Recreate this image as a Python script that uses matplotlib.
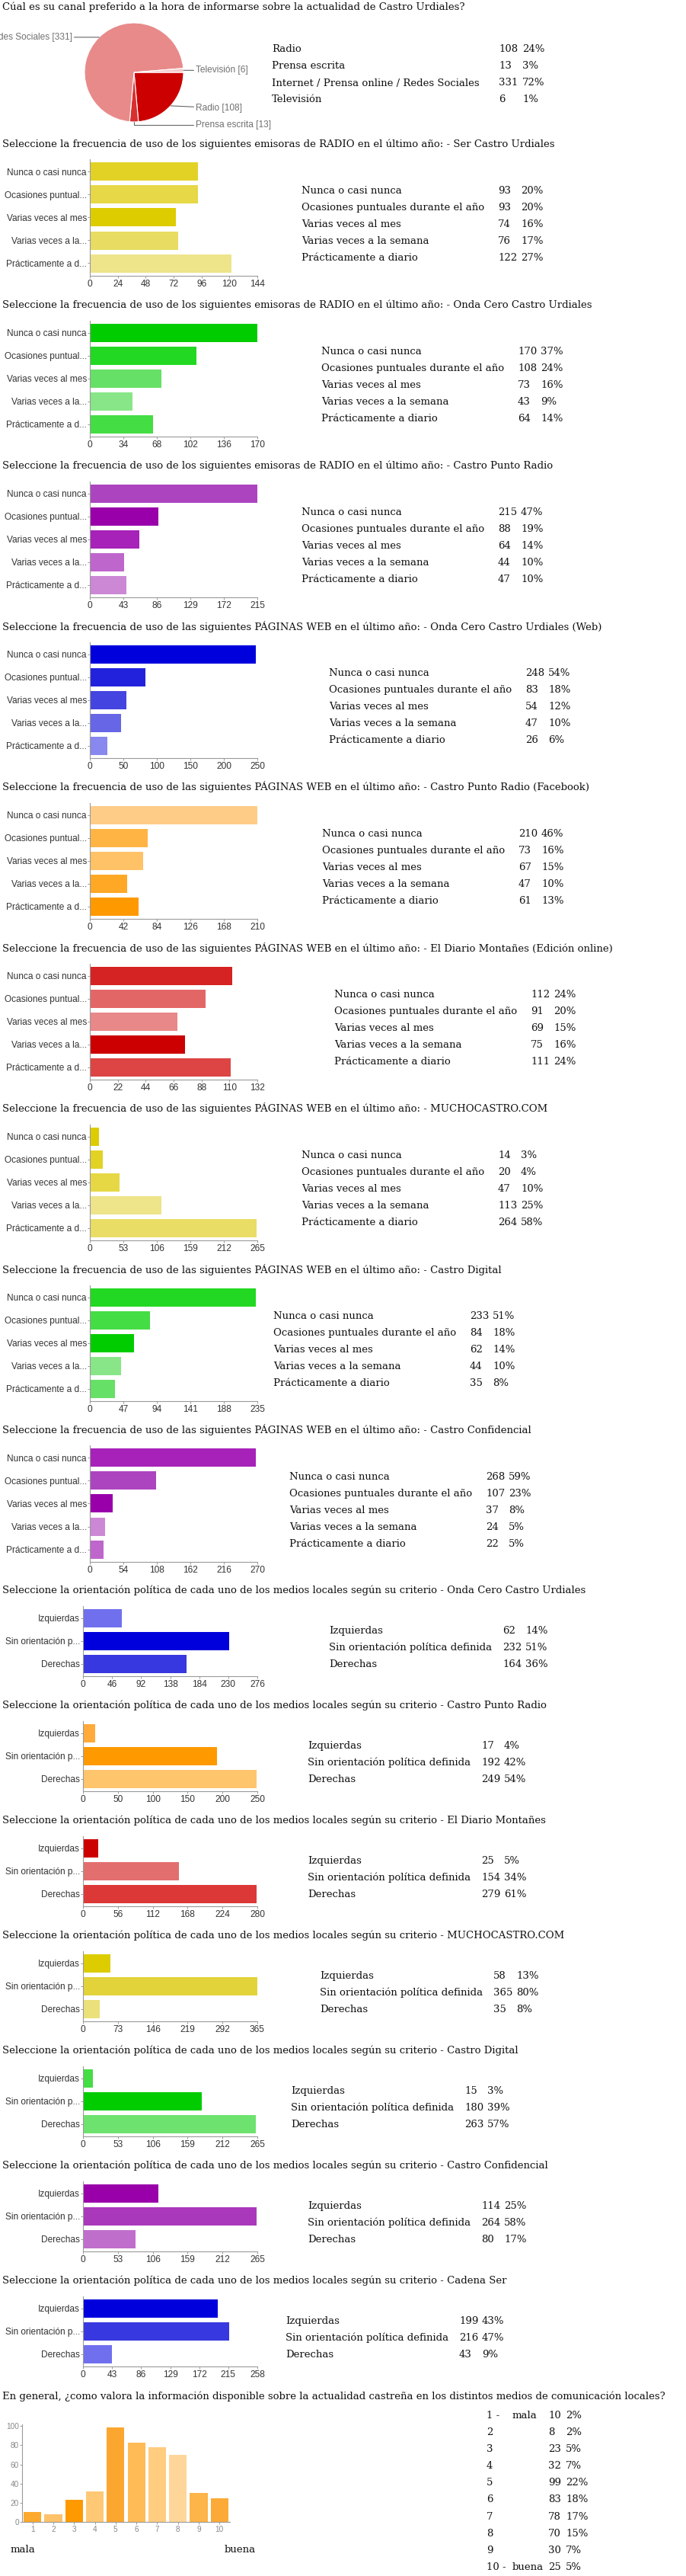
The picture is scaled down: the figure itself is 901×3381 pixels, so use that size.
import numpy as np
import matplotlib
matplotlib.use("Agg")
import matplotlib.pyplot as plt

W, H = 901, 3381
SERIF = ["DejaVu Serif", "Liberation Serif"]
SANS = ["Liberation Sans", "DejaVu Sans"]
plt.rcParams["font.family"] = SANS

TXT_SIZE = 9.5
AXIS_GRAY = "#9a9a9a"
TICK_TXT = "#333333"

# ---------------- data ----------------
PIE_TITLE = "Cúal es su canal preferido a la hora de informarse sobre la actualidad de Castro Urdiales?"
pie_labels = ["Radio", "Prensa escrita", "Internet / Prensa online / Redes Sociales", "Televisión"]
pie_counts = [108, 13, 331, 6]
pie_pcts = [24, 3, 72, 1]
pie_colors = ["#cc0000", "#d63030", "#e88a8a", "#f4cccc"]

FREQ_LABELS = ["Nunca o casi nunca", "Ocasiones puntuales durante el año", "Varias veces al mes",
               "Varias veces a la semana", "Prácticamente a diario"]
FREQ_TICKLABELS = ["Nunca o casi nunca", "Ocasiones puntual...", "Varias veces al mes",
                   "Varias veces a la...", "Prácticamente a d..."]
RADIO_Q = "Seleccione la frecuencia de uso de los siguientes emisoras de RADIO en el último año: - "
WEB_Q = "Seleccione la frecuencia de uso de las siguientes PÁGINAS WEB en el último año: - "
freq_titles = [RADIO_Q + "Ser Castro Urdiales", RADIO_Q + "Onda Cero Castro Urdiales",
               RADIO_Q + "Castro Punto Radio", WEB_Q + "Onda Cero Castro Urdiales (Web)",
               WEB_Q + "Castro Punto Radio (Facebook)", WEB_Q + "El Diario Montañes (Edición online)",
               WEB_Q + "MUCHOCASTRO.COM", WEB_Q + "Castro Digital", WEB_Q + "Castro Confidencial"]
freq_counts = [[93, 93, 74, 76, 122],
               [170, 108, 73, 43, 64],
               [215, 88, 64, 44, 47],
               [248, 83, 54, 47, 26],
               [210, 73, 67, 47, 61],
               [112, 91, 69, 75, 111],
               [14, 20, 47, 113, 264],
               [233, 84, 62, 44, 35],
               [268, 107, 37, 24, 22]]
freq_pcts = [[20, 20, 16, 17, 27],
             [37, 24, 16, 9, 14],
             [47, 19, 14, 10, 10],
             [54, 18, 12, 10, 6],
             [46, 16, 15, 10, 13],
             [24, 20, 15, 16, 24],
             [3, 4, 10, 25, 58],
             [51, 18, 14, 10, 8],
             [59, 23, 8, 5, 5]]
freq_axis_max = [144, 170, 215, 250, 210, 132, 265, 235, 270]
freq_tick_step = [24, 34, 43, 50, 42, 22, 53, 47, 54]
freq_colors = [["#e2d226", "#e6d846", "#ddcc00", "#e8dc62", "#eee48a"],
               ["#00cc00", "#22d822", "#66e066", "#88e688", "#44dd44"],
               ["#ad44bf", "#9900aa", "#a622b8", "#bf66cc", "#cc88d5"],
               ["#0000dd", "#2222dd", "#4444e0", "#6666e6", "#8888ee"],
               ["#ffcc88", "#ffb444", "#ffc266", "#ffa826", "#ff9900"],
               ["#d52222", "#e36666", "#e88888", "#cc0000", "#dd4444"],
               ["#ddcc00", "#e2d224", "#e6d844", "#eee48a", "#e9dd66"],
               ["#22d822", "#44dd44", "#00cc00", "#88e688", "#66e066"],
               ["#a622b8", "#ad44bf", "#9900aa", "#cc88d5", "#bf66cc"]]

POL_LABELS = ["Izquierdas", "Sin orientación política definida", "Derechas"]
POL_TICKLABELS = ["Izquierdas", "Sin orientación p...", "Derechas"]
POL_Q = "Seleccione la orientación política de cada uno de los medios locales según su criterio - "
pol_media = ["Onda Cero Castro Urdiales", "Castro Punto Radio", "El Diario Montañes",
             "MUCHOCASTRO.COM", "Castro Digital", "Castro Confidencial", "Cadena Ser"]
pol_counts = [[62, 232, 164],
              [17, 192, 249],
              [25, 154, 279],
              [58, 365, 35],
              [15, 180, 263],
              [114, 264, 80],
              [199, 216, 43]]
pol_pcts = [[14, 51, 36],
            [4, 42, 54],
            [5, 34, 61],
            [13, 80, 8],
            [3, 39, 57],
            [25, 58, 17],
            [43, 47, 9]]
pol_axis_max = [276, 250, 280, 365, 265, 265, 258]
pol_tick_step = [46, 50, 56, 73, 53, 53, 43]
pol_colors = [["#7070ee", "#0000dd", "#3838e0"],
              ["#ffaa3a", "#ff9900", "#ffc56c"],
              ["#cc0000", "#e36e6e", "#dd3838"],
              ["#ddcc00", "#e3d33a", "#ebe07a"],
              ["#44dd44", "#00cc00", "#6ee26e"],
              ["#9900aa", "#aa38bb", "#c06ecc"],
              ["#0000dd", "#3838e0", "#7070ee"]]

RATE_TITLE = ("En general, ¿como valora la información disponible sobre la actualidad castreña "
              "en los distintos medios de comunicación locales?")
rate_scores = [1, 2, 3, 4, 5, 6, 7, 8, 9, 10]
rate_counts = [10, 8, 23, 32, 99, 83, 78, 70, 30, 25]
rate_pcts = [2, 2, 5, 7, 22, 18, 17, 15, 7, 5]
rate_colors = ["#fca92e", "#fdc26a", "#ff9900", "#ffc875", "#fba62f",
               "#ffbb55", "#ffcc80", "#ffd699", "#fdb448", "#fbaa38"]

# table placement (pixels)
FREQ_TABLE_X = [396, 422, 396, 432, 423, 439, 396, 359, 380]
POL_TABLE_X = [432, 404, 404, 420, 382, 404, 375]

fig = plt.figure(figsize=(W / 100, H / 100), dpi=100)
fig.patch.set_facecolor("white")


def px_axes(left, top, width, height):
    return fig.add_axes([left / W, 1 - (top + height) / H, width / W, height / H])


def put(x, y, s, **kw):
    kw.setdefault("family", SERIF)
    kw.setdefault("fontsize", TXT_SIZE)
    kw.setdefault("va", "center")
    kw.setdefault("color", "#111111")
    fig.text(x / W, 1 - y / H, s, **kw)


def style_axes(ax):
    for side in ("top", "right"):
        ax.spines[side].set_visible(False)
    for side in ("left", "bottom"):
        ax.spines[side].set_color(AXIS_GRAY)
        ax.spines[side].set_linewidth(0.8)
    ax.tick_params(length=2.2, width=0.7, color=AXIS_GRAY, labelsize=8.6,
                   labelcolor=TICK_TXT)
    ax.tick_params(axis="x", pad=1.5)
    ax.tick_params(axis="y", pad=0.8)


def bar_block(title, title_y, ax_left, ticklabels, labels, values, pcts, colors,
              xmax, step, table_x, num_off, row_off):
    put(3, title_y, title)
    n = len(values)
    top = title_y + 20.5
    ax = px_axes(ax_left, top, 338 - ax_left, 30 * n + 2)
    pos = np.arange(n)
    ax.barh(pos, values, height=0.8, color=colors)
    ax.set_xlim(0, xmax)
    ax.set_ylim(n - 0.5 + 1 / 30, -0.5 - 1 / 30)
    ticks = np.arange(0, xmax + 1, step)
    ax.set_xticks(ticks)
    ax.set_xticklabels([str(t) for t in ticks])
    ax.set_yticks(pos)
    ax.set_yticklabels(ticklabels)
    style_axes(ax)
    for k, (lab, v, p) in enumerate(zip(labels, values, pcts)):
        yy = top + row_off + 22 * k
        put(table_x, yy, lab)
        put(table_x + num_off, yy, str(v))
        put(table_x + num_off + 30, yy, f"{p}%")


# ---------------- pie ----------------
put(3, 9, PIE_TITLE)
pax = px_axes(111, 30, 130, 130)
wedges, _ = pax.pie(pie_counts, colors=pie_colors, startangle=0, counterclock=False,
                    wedgeprops=dict(edgecolor="white", linewidth=0.8))
pax.set_xlim(-1, 1)
pax.set_ylim(-1, 1)
label_xy = [(1.25, -0.72), (1.25, -1.06), (-1.25, None), (1.25, None)]
for w, lab, cnt, (tx, ty) in zip(wedges, pie_labels, pie_counts, label_xy):
    ang = np.deg2rad((w.theta1 + w.theta2) / 2)
    px, py = np.cos(ang), np.sin(ang)
    if ty is None:
        ty = py
    conn = "angle,angleA=0,angleB=90,rad=0" if abs(py + 1) < 0.05 else "arc3"
    pax.annotate(f"{lab} [{cnt}]", xy=(px, py), xytext=(tx, ty),
                 ha="right" if tx < 0 else "left", va="center", fontsize=8.6,
                 color="#707070", annotation_clip=False,
                 arrowprops=dict(arrowstyle="-", color="#666666", lw=0.8,
                                 shrinkA=0, shrinkB=0, connectionstyle=conn))
for k, (lab, cnt, p) in enumerate(zip(pie_labels, pie_counts, pie_pcts)):
    yy = 65 + 22 * k
    put(357, yy, lab)
    put(655, yy, str(cnt))
    put(686, yy, f"{p}%")

# ---------------- frequency charts ----------------
for i in range(len(freq_titles)):
    bar_block(freq_titles[i], 189 + 211 * i, 118, FREQ_TICKLABELS, FREQ_LABELS,
              freq_counts[i], freq_pcts[i], freq_colors[i], freq_axis_max[i],
              freq_tick_step[i], FREQ_TABLE_X[i], 258, 41)

# ---------------- political charts ----------------
for j in range(len(pol_media)):
    bar_block(POL_Q + pol_media[j], 2087 + 151 * j, 109, POL_TICKLABELS, POL_LABELS,
              pol_counts[j], pol_pcts[j], pol_colors[j], pol_axis_max[j],
              pol_tick_step[j], POL_TABLE_X[j], 228, 33)

# ---------------- rating chart ----------------
put(3, 3145, RATE_TITLE)
rax = px_axes(29, 3181.5, 273, 128.5)
rax.bar(rate_scores, rate_counts, width=0.85, color=rate_colors)
rax.set_xlim(0.5, 10.5)
rax.set_ylim(0, 102.2)
rax.set_xticks(rate_scores)
rax.set_yticks(np.arange(0, 101, 20))
style_axes(rax)
rax.tick_params(labelsize=7.2, labelcolor="#888888")
put(14, 3346, "mala")
put(295, 3346, "buena")

for k, (s, cnt, p) in enumerate(zip(rate_scores, rate_counts, rate_pcts)):
    yy = 3170 + 22.2 * k
    if s == 1:
        put(639, yy, "1 -")
        put(673, yy, "mala")
    elif s == 10:
        put(639, yy, "10 -")
        put(673, yy, "buena")
    else:
        put(639, yy, str(s))
    put(720, yy, str(cnt))
    put(743, yy, f"{p}%")

fig.savefig("out.png", dpi=100, facecolor="white")
